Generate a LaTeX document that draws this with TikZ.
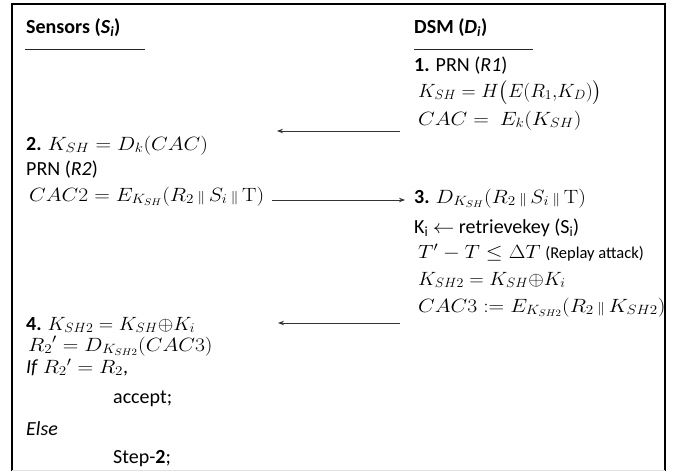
\RequirePackage{fix-cm}
\documentclass[tikz,border=0pt]{standalone}
\usepackage{amsmath}
\usepackage[no-math]{fontspec}
\setmainfont{Carlito}
\usetikzlibrary{arrows.meta}

% formulas, set slightly wider and lower than Computer Modern normally runs
\newcommand{\fm}[2][1.08]{\scalebox{#1}[0.96]{$#2$}}
% concatenation bar, set a little smaller than the math size
\newcommand{\catbar}{\mskip3mu\scalebox{0.7}{$\|$}\mskip3mu}

\tikzset{
  txt/.style={anchor=base west, inner sep=0pt, font=\fontsize{20}{24}\selectfont},
  rule/.style={line width=0.9pt, black!85},
  msg/.style={line width=0.8pt, black!80, -{Stealth[length=6pt,width=4.5pt]}},
  frame/.style={line width=2pt, black}
}

\begin{document}
\begin{tikzpicture}[x=1pt,y=-1pt]
  \useasboundingbox (0,0) rectangle (677,471);

  % outer frame (open at the bottom edge)
  \draw[frame] (12,471) -- (12,4) -- (665,4) -- (665,471);
  \draw[line width=1pt, black!12] (12,470) -- (665,470);

  % column headings
  \node[txt] (hs) at (26,33) {\textbf{Sensors (\textit{S}\textsubscript{\textit{i}})}};
  \node[txt] (hd) at (414,33) {\textbf{DSM (\textit{D}\textsubscript{\textit{i}})}};
  \draw[rule] (25,49) -- (145,49);
  \draw[rule] (414,49) -- (533,49);

  % DSM, step 1
  \node[txt] (d1) at (414,71) {\textbf{1.} PRN (\textit{R1})};
  \node[txt] (d2) at (418,97) {\fm[0.98]{K_{SH} = H\bigl(E(R_1,\!K_D)\bigr)}};
  \node[txt] (d3) at (418,125) {\fm{CAC =\ E_k(K_{SH})}};

  % sensor, step 2
  \node[txt] (s1) at (26,150) {\textbf{2.} \fm{K_{SH} = D_k(CAC)}};
  \node[txt] (s2) at (26,175) {PRN (\textit{R2})};
  \node[txt] (s3) at (29,201) {\fm{CAC2 = E_{K_{SH}}(R_2 \catbar S_i \catbar \mathrm{T})}};

  % DSM, step 3
  \node[txt] (d4) at (414,203) {\textbf{3.} \fm{D_{K_{SH}}(R_2 \catbar S_i \catbar \mathrm{T})}};
  \node[txt] (d5) at (414,233) {K\textsubscript{i} \fm{\leftarrow} retrievekey (S\textsubscript{i})};
  \node[txt] (d6) at (418,258) {\fm{T' - T \leq \Delta T} {\fontsize{16.5}{20}\selectfont(Replay attack)}};
  \node[txt] (d7) at (418,285) {\fm[1.0]{K_{SH2} = K_{SH}{\oplus}K_i}};
  \node[txt] (d8) at (418,312) {\fm{CAC3 := E_{K_{SH2}}(R_2 \catbar K_{SH2})}};

  % sensor, step 4
  \node[txt] (s4) at (26,330) {\textbf{4.} \fm[1.0]{K_{SH2} = K_{SH}{\oplus}K_i}};
  \node[txt] (s5) at (28,351) {\fm{{R_2}' = D_{K_{SH2}}(CAC3)}};
  \node[txt] (s6) at (26,373) {\textit{If} \fm{R_2{}' = R_2},};
  \node[txt] (s7) at (113,403) {accept;};
  \node[txt] (s8) at (26,435) {\textit{Else}};
  \node[txt] (s9) at (113,463) {Step-\textbf{2};};

  % message arrows
  \coordinate (m1a) at (400,131);
  \coordinate (m1b) at (277,131);
  \coordinate (m2a) at (272,200);
  \coordinate (m2b) at (405,200);
  \coordinate (m3a) at (400,323);
  \coordinate (m3b) at (278,323);
  \draw[msg] (m1a) -- (m1b);
  \draw[msg] (m2a) -- (m2b);
  \draw[msg] (m3a) -- (m3b);
\end{tikzpicture}
\end{document}
